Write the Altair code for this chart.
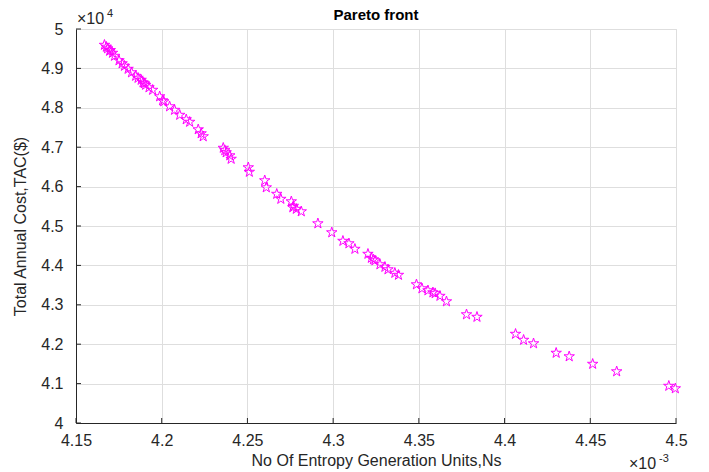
import altair as alt
import pandas as pd

# Pareto front: entropy generation units (x 1e-3) vs total annual cost (x 1e4)
ns_units = [
    4.1666, 4.1677, 4.1684, 4.1696, 4.1700, 4.1713, 4.1725, 4.1751, 4.1769, 4.1783,
    4.1804, 4.1824, 4.1848, 4.1862, 4.1880, 4.1891, 4.1898, 4.1906, 4.1926, 4.1947,
    4.1988, 4.2005, 4.2012, 4.2046, 4.2075, 4.2105, 4.2143, 4.2163, 4.2213, 4.2230,
    4.2242, 4.2359, 4.2368, 4.2376, 4.2397, 4.2405, 4.2505, 4.2511, 4.2601, 4.2610,
    4.2671, 4.2695, 4.2756, 4.2765, 4.2768, 4.2785, 4.2814, 4.2911, 4.2992, 4.3057,
    4.3092, 4.3127, 4.3203, 4.3223, 4.3235, 4.3244, 4.3273, 4.3302, 4.3320, 4.3360,
    4.3381, 4.3486, 4.3518, 4.3553, 4.3582, 4.3595, 4.3623, 4.3661, 4.3778, 4.3839,
    4.4064, 4.4111, 4.4169, 4.4301, 4.4377, 4.4514, 4.4654, 4.4958, 4.4996,
]
tac_cost = [
    4.9594, 4.9545, 4.9505, 4.9442, 4.9460, 4.9391, 4.9315, 4.9201, 4.9124, 4.9061,
    4.8985, 4.8896, 4.8807, 4.8756, 4.8706, 4.8642, 4.8620, 4.8579, 4.8515, 4.8452,
    4.8287, 4.8185, 4.8160, 4.8033, 4.7944, 4.7817, 4.7703, 4.7640, 4.7449, 4.7348,
    4.7272, 4.6980, 4.6920, 4.6865, 4.6789, 4.6701, 4.6485, 4.6371, 4.6155, 4.5977,
    4.5812, 4.5685, 4.5622, 4.5470, 4.5508, 4.5431, 4.5368, 4.5063, 4.4835, 4.4619,
    4.4556, 4.4416, 4.4289, 4.4188, 4.4150, 4.4124, 4.4023, 4.3959, 4.3896, 4.3807,
    4.3756, 4.3515, 4.3414, 4.3363, 4.3312, 4.3290, 4.3223, 4.3084, 4.2754, 4.2690,
    4.2259, 4.2107, 4.2018, 4.1777, 4.1688, 4.1497, 4.1307, 4.0939, 4.0876,
]
x_ticks = [4.15, 4.2, 4.25, 4.3, 4.35, 4.4, 4.45, 4.5]
y_ticks = [4.0, 4.1, 4.2, 4.3, 4.4, 4.5, 4.6, 4.7, 4.8, 4.9, 5.0]

df = pd.DataFrame({"ns": ns_units, "tac": tac_cost})
xt = pd.DataFrame({"v": x_ticks})
yt = pd.DataFrame({"v": y_ticks})

W, H = 600, 394
FONT = "Liberation Sans"
AXIS_COLOR = "#262626"

STAR = ("M0,-1L0.2245,-0.309L0.9511,-0.309L0.3633,0.118L0.5878,0.809"
        "L0,0.382L-0.5878,0.809L-0.3633,0.118L-0.9511,-0.309L-0.2245,-0.309Z")

x_scale = alt.Scale(domain=[4.15, 4.5], nice=False, zero=False)
y_scale = alt.Scale(domain=[4.0, 5.0], nice=False, zero=False)

x_axis = alt.Axis(
    values=x_ticks, tickCount=len(x_ticks), format="~g",
    title="No Of Entropy Generation Units,Ns",
    grid=True, gridColor="#dedede", gridWidth=1,
    domainColor=AXIS_COLOR, domainWidth=1, tickSize=0,
    labelFont=FONT, labelFontSize=16, labelColor=AXIS_COLOR, labelPadding=9,
    labelOverlap=False, labelFlush=False,
    titleFont=FONT, titleFontSize=16, titleFontWeight="normal",
    titleColor=AXIS_COLOR, titlePadding=4,
)
y_axis = alt.Axis(
    values=y_ticks, tickCount=len(y_ticks), format="~g",
    title="Total Annual Cost,TAC($)",
    grid=True, gridColor="#dedede", gridWidth=1,
    domainColor=AXIS_COLOR, domainWidth=1, tickSize=0,
    labelFont=FONT, labelFontSize=16, labelColor=AXIS_COLOR, labelPadding=13,
    labelOverlap=False, labelFlush=False,
    titleFont=FONT, titleFontSize=16, titleFontWeight="normal",
    titleColor=AXIS_COLOR, titlePadding=12,
)

points = alt.Chart(df).mark_point(
    shape=STAR, size=120, filled=False, color="#ff00ff", strokeWidth=1, opacity=1,
).encode(
    x=alt.X("ns:Q", scale=x_scale, axis=x_axis),
    y=alt.Y("tac:Q", scale=y_scale, axis=y_axis),
)

# inward tick marks along the bottom and left axes
x_tick_marks = alt.Chart(xt).mark_rule(color=AXIS_COLOR, strokeWidth=1).encode(
    x=alt.X("v:Q", scale=x_scale, axis=x_axis), y=alt.value(H), y2=alt.value(H - 5),
)
y_tick_marks = alt.Chart(yt).mark_rule(color=AXIS_COLOR, strokeWidth=1).encode(
    y=alt.Y("v:Q", scale=y_scale, axis=y_axis), x=alt.value(0), x2=alt.value(5),
)

def label(txt, x, y, size, align="left", weight="normal", color=AXIS_COLOR):
    return alt.Chart(pd.DataFrame({"t": [txt]})).mark_text(
        font=FONT, fontSize=size, color=color, align=align,
        baseline="alphabetic", fontWeight=weight,
    ).encode(text="t:N", x=alt.value(x), y=alt.value(y))

# chart title and exponent annotations for both axes
title = label("Pareto front", W / 2, -9, 15, align="center", weight="bold", color="#000000")
y_exp = label("×10", 1, -5, 16) + label("4", 31, -12, 11)
x_exp = label("×10", 553, H + 46, 16) + label("-3", 583, H + 39, 11)

chart = alt.layer(points, x_tick_marks, y_tick_marks, title, y_exp, x_exp).properties(
    width=W, height=H,
    autosize=alt.AutoSizeParams(type="none"),
    padding={"left": 76, "top": 29, "right": 33, "bottom": 49},
).configure_view(stroke=None).configure(background="white")

chart.save("out.html", embed_options={"renderer": "svg", "actions": False})
